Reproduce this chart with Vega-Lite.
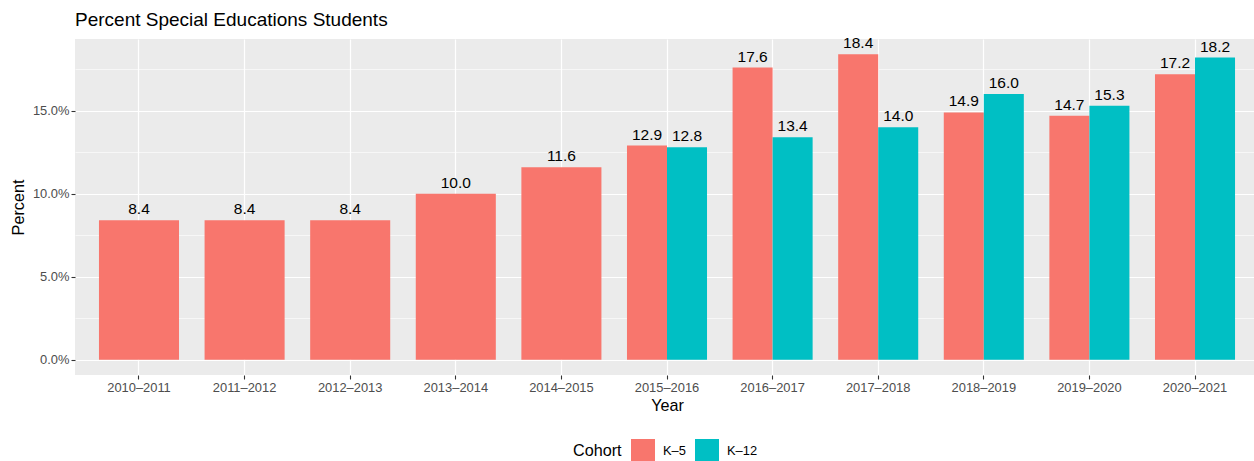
{
  "$schema": "https://vega.github.io/schema/vega-lite/v6.json",
  "autosize": {"type": "none"},
  "padding": {"left": 75, "top": 39, "right": 0, "bottom": 86},
  "width": 1179,
  "height": 336,
  "background": "white",
  "config": {
    "font": "Liberation Sans",
    "view": {"fill": "#EBEBEB", "stroke": null}
  },
  "title": {
    "text": "Percent Special Educations Students",
    "anchor": "start",
    "frame": "group",
    "fontSize": 19,
    "fontWeight": "normal",
    "color": "#000000",
    "font": "Liberation Sans",
    "offset": 6
  },
  "data": {
    "values": [
      {"Year": "2010–2011", "Cohort": "K–5", "Percent": 8.4},
      {"Year": "2011–2012", "Cohort": "K–5", "Percent": 8.4},
      {"Year": "2012–2013", "Cohort": "K–5", "Percent": 8.4},
      {"Year": "2013–2014", "Cohort": "K–5", "Percent": 10.0},
      {"Year": "2014–2015", "Cohort": "K–5", "Percent": 11.6},
      {"Year": "2015–2016", "Cohort": "K–5", "Percent": 12.9},
      {"Year": "2016–2017", "Cohort": "K–5", "Percent": 17.6},
      {"Year": "2017–2018", "Cohort": "K–5", "Percent": 18.4},
      {"Year": "2018–2019", "Cohort": "K–5", "Percent": 14.9},
      {"Year": "2019–2020", "Cohort": "K–5", "Percent": 14.7},
      {"Year": "2020–2021", "Cohort": "K–5", "Percent": 17.2},
      {"Year": "2015–2016", "Cohort": "K–12", "Percent": 12.8},
      {"Year": "2016–2017", "Cohort": "K–12", "Percent": 13.4},
      {"Year": "2017–2018", "Cohort": "K–12", "Percent": 14.0},
      {"Year": "2018–2019", "Cohort": "K–12", "Percent": 16.0},
      {"Year": "2019–2020", "Cohort": "K–12", "Percent": 15.3},
      {"Year": "2020–2021", "Cohort": "K–12", "Percent": 18.2}
    ]
  },
  "transform": [
    {"joinaggregate": [{"op": "count", "as": "n"}], "groupby": ["Year"]}
  ],
  "encoding": {
    "x": {
      "field": "Year",
      "type": "nominal",
      "sort": null,
      "scale": {"range": [0, 1184], "paddingInner": 0.242, "paddingOuter": 0.227},
      "axis": {
        "title": "Year",
        "titleFontSize": 16.2,
        "titleFontWeight": "normal",
        "titleColor": "#000000",
        "titlePadding": 4,
        "labelFontSize": 12.9,
        "labelColor": "#4D4D4D",
        "labelAngle": 0,
        "labelPadding": 2,
        "domain": false,
        "ticks": true,
        "tickSize": 4,
        "tickColor": "#333333",
        "tickWidth": 1.1,
        "bandPosition": 0.5,
        "grid": true,
        "gridColor": "#FFFFFF",
        "gridWidth": 1.2
      }
    },
    "y": {
      "field": "Percent",
      "type": "quantitative",
      "scale": {"domain": [-0.92, 19.32], "nice": false, "zero": false},
      "axis": {
        "title": "Percent",
        "titleFontSize": 16.2,
        "titleFontWeight": "normal",
        "titleColor": "#000000",
        "titlePadding": 6,
        "values": [0, 2.5, 5, 7.5, 10, 12.5, 15, 17.5],
        "labelExpr": "datum.value % 5 === 0 ? format(datum.value, '.1f') + '%' : ''",
        "labelFontSize": 12.9,
        "labelColor": "#4D4D4D",
        "labelPadding": 2,
        "domain": false,
        "tickSize": 4,
        "tickColor": "#333333",
        "tickWidth": 1.1,
        "tickOpacity": {"condition": {"test": "datum.value % 5 !== 0", "value": 0}, "value": 1},
        "grid": true,
        "gridColor": "#FFFFFF",
        "gridWidth": {"condition": {"test": "datum.value % 5 !== 0", "value": 0.6}, "value": 1.2}
      }
    },
    "color": {
      "field": "Cohort",
      "type": "nominal",
      "sort": ["K–5", "K–12"],
      "scale": {"domain": ["K–5", "K–12"], "range": ["#F8766D", "#00BFC4"]},
      "legend": {
        "orient": "none",
        "direction": "horizontal",
        "legendX": 498,
        "legendY": 400,
        "title": "Cohort",
        "titleOrient": "left",
        "titleFontSize": 16.2,
        "titleFontWeight": "normal",
        "titleColor": "#000000",
        "titlePadding": 9,
        "titleBaseline": "middle",
        "labelFontSize": 12.9,
        "labelColor": "#000000",
        "symbolType": "square",
        "symbolSize": 576,
        "symbolStrokeWidth": 0,
        "symbolOpacity": 1,
        "labelOffset": 8,
        "columnPadding": 9
      }
    }
  },
  "layer": [
    {
      "transform": [{"filter": "datum.n == 1"}],
      "mark": {"type": "bar"},
      "encoding": {"y2": {"datum": 0}}
    },
    {
      "transform": [{"filter": "datum.n == 2"}],
      "mark": {"type": "bar"},
      "encoding": {
        "y2": {"datum": 0},
        "xOffset": {"field": "Cohort", "type": "nominal", "sort": ["K–5", "K–12"], "scale": {"paddingInner": 0, "paddingOuter": 0}}
      }
    },
    {
      "transform": [{"filter": "datum.n == 1"}],
      "mark": {"type": "text", "baseline": "alphabetic", "dy": -6, "fontSize": 15.5, "color": "#000000"},
      "encoding": {
        "text": {"field": "Percent", "type": "quantitative", "format": ".1f"},
        "color": {"value": "#000000"}
      }
    },
    {
      "transform": [{"filter": "datum.n == 2"}],
      "mark": {"type": "text", "baseline": "alphabetic", "dy": -6, "fontSize": 15.5, "color": "#000000"},
      "encoding": {
        "text": {"field": "Percent", "type": "quantitative", "format": ".1f"},
        "color": {"value": "#000000"},
        "xOffset": {"field": "Cohort", "type": "nominal", "sort": ["K–5", "K–12"], "scale": {"paddingInner": 0, "paddingOuter": 0}}
      }
    }
  ]
}
